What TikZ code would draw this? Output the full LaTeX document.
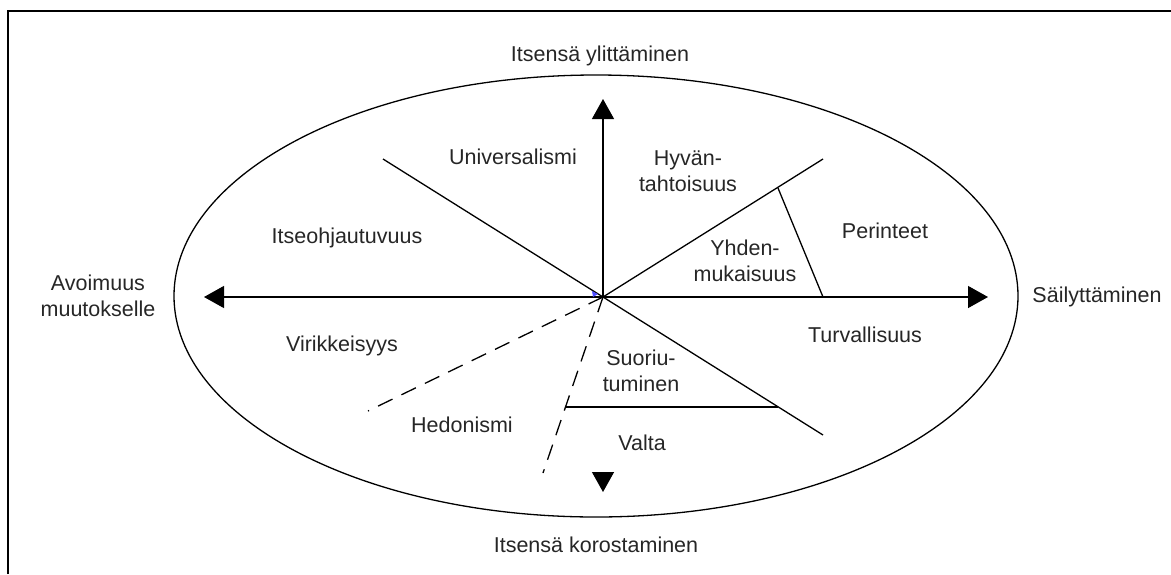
\documentclass[tikz,border=0pt]{standalone}
\usepackage{fontspec}
\setmainfont{Liberation Sans}
\usepackage{tikz}
\usetikzlibrary{arrows.meta, positioning}
\newcommand{\lblfont}{\fontsize{21.5}{26}\selectfont}
\tikzset{
  % Value labels
  lbl/.style={font=\lblfont, text=black!85, align=center, inner sep=0pt},
  % Axes and dividers
  axis/.style={-{Triangle[length=20pt, width=22pt]}, line width=1.3pt},
  divider/.style={line width=1.3pt},
  dashdiv/.style={line width=1.3pt, dash pattern=on 16pt off 10pt},
}
\begin{document}
\begin{tikzpicture}[x=1pt, y=-1pt]
    \useasboundingbox (0,0) rectangle (1171,574);
    % Frame
    \draw[line width=1.8pt] (8,574) -- (8,11) -- (1171,11);

    % Ellipse
    \draw[line width=1.3pt] (596,296) ellipse [x radius=422, y radius=221];

    % Centre and end points
    \coordinate (o) at (603,297);
    \coordinate (left) at (204,297);
    \coordinate (right) at (988,297);
    \coordinate (top) at (603,99);
    \coordinate (bot) at (603,492);
    \coordinate (ul) at (383,159);
    \coordinate (ur) at (823,159);
    \coordinate (lr) at (823,435);
    \coordinate (dl) at (368,411);
    \coordinate (db) at (543,473);
    \coordinate (per) at (778,188);
    \coordinate (peraxis) at (823,297);
    \coordinate (suo) at (778,407);
    \coordinate (suoend) at (565,407);

    % Axes
    \draw[axis] (o) -- (left);
    \draw[axis] (o) -- (right);
    \draw[axis] (o) -- (top);
    \draw[axis] (603,472) -- (bot);

    % Dividers
    \draw[divider] (ul) -- (o);
    \draw[divider] (o) -- (ur);
    \draw[divider] (o) -- (lr);
    \draw[divider] (per) -- (peraxis);
    \draw[divider] (suo) -- (suoend);
    \draw[dashdiv] (o) -- (dl);
    \draw[dashdiv] (o) -- (db);
    \fill[blue!70] (598,294) -- (592,291) -- (593,297) -- cycle;

    % Axis labels
    \node[lbl] (ylit) at (600,56) {Itsensä ylittäminen};
    \node[lbl] (koro) at (596,545) {Itsensä korostaminen};
    \node[lbl] (avo) at (98,296) {Avoimuus\\muutokselle};
    \node[lbl] (sail) at (1097,297) {Säilyttäminen};

    % Values
    \node[lbl] (uni) at (513,157) {Universalismi};
    \node[lbl] (hyv) at (688,171) {Hyvän-\\tahtoisuus};
    \node[lbl] (itse) at (347,238) {Itseohjautuvuus};
    \node[lbl] (yhd) at (745,261) {Yhden-\\mukaisuus};
    \node[lbl] (per) at (885,231) {Perinteet};
    \node[lbl] (vir) at (342,346) {Virikkeisyys};
    \node[lbl] (turv) at (865,335) {Turvallisuus};
    \node[lbl] (suor) at (641,371) {Suoriu-\\tuminen};
    \node[lbl] (hed) at (462,425) {Hedonismi};
    \node[lbl] (valta) at (642,443) {Valta};
\end{tikzpicture}
\end{document}
